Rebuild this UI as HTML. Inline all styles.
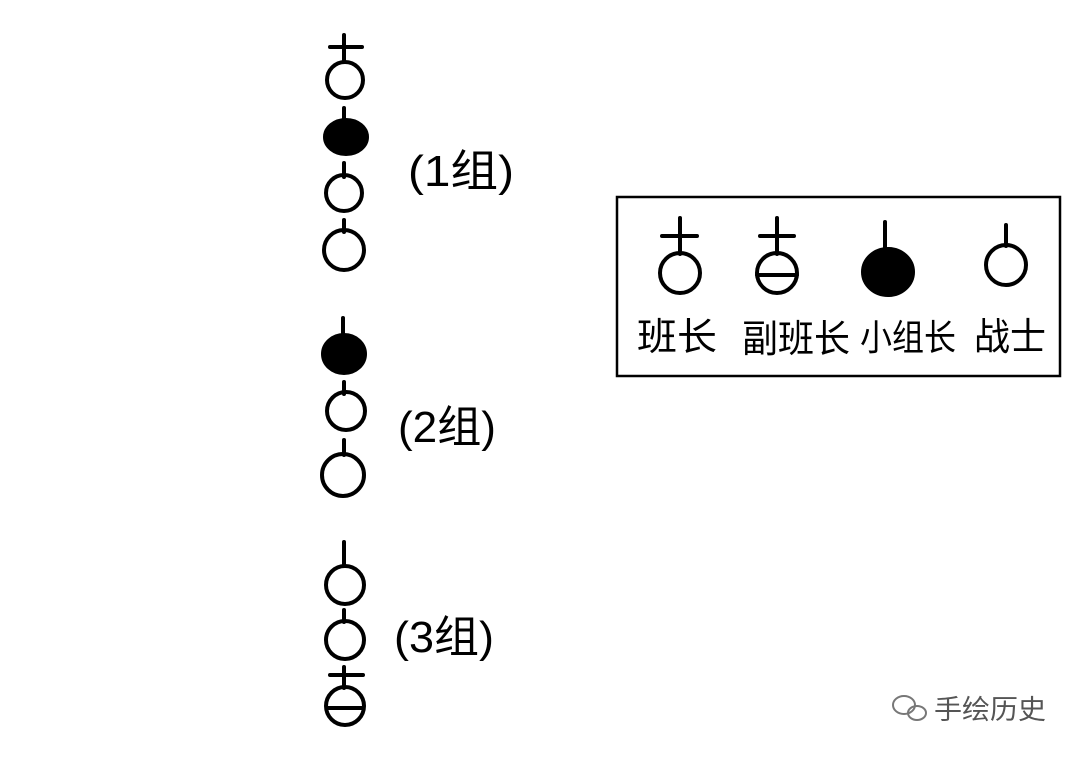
<!DOCTYPE html>
<html><head><meta charset="utf-8"><style>
html,body{margin:0;padding:0;background:#fff;}
svg{display:block}
text{font-family:"Liberation Sans","Noto Sans CJK SC",sans-serif;fill:#000}
</style></head><body>
<svg width="1080" height="757" viewBox="0 0 1080 757" xmlns="http://www.w3.org/2000/svg">
<g stroke="#000" stroke-width="4" fill="none" stroke-linecap="round">
<line x1="344" y1="35" x2="344" y2="62"/><line x1="330" y1="47" x2="362" y2="47"/>
<circle cx="345" cy="80" r="18"/>
<line x1="344" y1="108" x2="344" y2="122"/>
<ellipse cx="346" cy="137" rx="21" ry="17" fill="#000"/>
<line x1="344" y1="163" x2="344" y2="177"/>
<circle cx="344" cy="193" r="18"/>
<line x1="344" y1="220" x2="344" y2="232"/>
<circle cx="344" cy="250" r="20"/>
<line x1="343" y1="318" x2="343" y2="337"/>
<ellipse cx="344" cy="354" rx="21" ry="19" fill="#000"/>
<line x1="344" y1="382" x2="344" y2="394"/>
<circle cx="346" cy="411" r="19"/>
<line x1="344" y1="440" x2="344" y2="455"/>
<circle cx="343" cy="475" r="21"/>
<line x1="344" y1="542" x2="344" y2="566"/>
<circle cx="345" cy="585" r="19"/>
<line x1="344" y1="610" x2="344" y2="622"/>
<circle cx="345" cy="640" r="19"/>
<line x1="344" y1="667" x2="344" y2="688"/><line x1="330" y1="675" x2="363" y2="675"/>
<circle cx="345" cy="706" r="19"/>
<line x1="327" y1="708" x2="363" y2="708"/>
<rect x="617" y="197" width="443" height="179" stroke-width="2.5" stroke-linecap="butt"/>
<line x1="680" y1="218" x2="680" y2="254"/><line x1="662" y1="236" x2="697" y2="236"/>
<circle cx="680" cy="273" r="20"/>
<line x1="777" y1="218" x2="777" y2="254"/><line x1="760" y1="236" x2="794" y2="236"/>
<circle cx="777" cy="273" r="20"/>
<line x1="757" y1="275" x2="797" y2="275"/>
<line x1="885" y1="222" x2="885" y2="250"/>
<ellipse cx="888" cy="272" rx="25" ry="23" fill="#000"/>
<line x1="1006" y1="225" x2="1006" y2="246"/>
<circle cx="1006" cy="265" r="20"/>
</g>
<circle cx="344" cy="546" r="1.5" fill="#000"/>
<text x="408" y="186" font-size="44" textLength="106" lengthAdjust="spacingAndGlyphs">(1组)</text>
<text x="398" y="442" font-size="44" textLength="98" lengthAdjust="spacingAndGlyphs">(2组)</text>
<text x="394" y="652" font-size="44" textLength="100" lengthAdjust="spacingAndGlyphs">(3组)</text>
<text x="637" y="350" font-size="38" textLength="80" lengthAdjust="spacingAndGlyphs">班长</text>
<text x="742" y="352" font-size="38" textLength="108" lengthAdjust="spacingAndGlyphs">副班长</text>
<text x="860" y="350" font-size="36" textLength="96" lengthAdjust="spacingAndGlyphs">小组长</text>
<text x="974" y="350" font-size="38" textLength="72" lengthAdjust="spacingAndGlyphs">战士</text>
<g fill="none" stroke="#777" stroke-width="2">
<ellipse cx="904" cy="705" rx="11" ry="9"/><ellipse cx="917" cy="713" rx="9" ry="7"/>
</g>
<text x="934" y="719" font-size="27" style="fill:#555" textLength="112" lengthAdjust="spacingAndGlyphs">手绘历史</text>
</svg>
</body></html>
